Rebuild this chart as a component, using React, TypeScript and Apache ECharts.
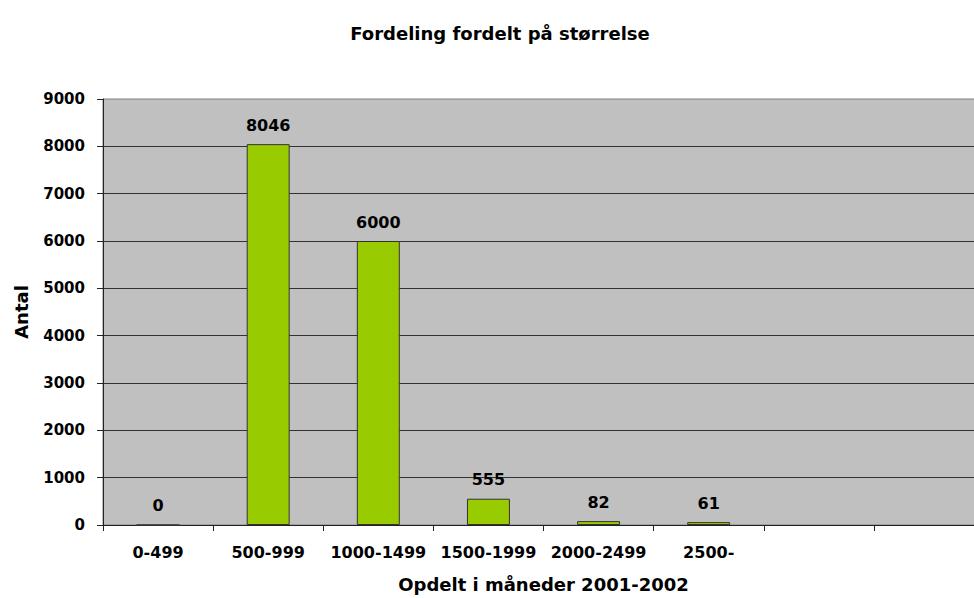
import React, { useEffect, useRef } from "react";
import * as echarts from "echarts";

const TITLE = "Fordeling fordelt på størrelse";
const X_NAME = "Opdelt i måneder 2001-2002";
const Y_NAME = "Antal";
const categories = ["0-499", "500-999", "1000-1499", "1500-1999", "2000-2499", "2500-", "", ""];
const values: (number | null)[] = [0, 8046, 6000, 555, 82, 61, null, null];
const yMin = 0;
const yMax = 9000;
const yInterval = 1000;

const FONT = "'DejaVu Sans', 'Liberation Sans', Arial, sans-serif";

export default function App() {
  const ref = useRef<HTMLDivElement>(null);
  useEffect(() => {
    if (!ref.current) return;
    const chart = echarts.init(ref.current, null, { renderer: "svg" });
    chart.setOption({
      animation: false,
      backgroundColor: "#ffffff",
      textStyle: { fontFamily: FONT, color: "#000" },
      title: {
        text: TITLE,
        left: "center",
        top: 19,
        textStyle: { fontFamily: FONT, fontWeight: "bold", fontSize: 18, color: "#000" },
      },
      grid: {
        left: 103,
        right: 16,
        top: 99,
        bottom: 71,
        show: true,
        backgroundColor: "#C0C0C0",
        borderColor: "#808080",
        borderWidth: 1,
      },
      xAxis: {
        type: "category",
        data: categories,
        boundaryGap: true,
        name: X_NAME,
        nameLocation: "middle",
        nameGap: 50,
        nameTextStyle: { fontFamily: FONT, fontWeight: "bold", fontSize: 18, color: "#000" },
        axisLine: { show: true, lineStyle: { color: "#222", width: 1 } },
        axisTick: { show: true, length: 6, inside: false, lineStyle: { color: "#222" } },
        axisLabel: {
          interval: 0,
          margin: 19,
          fontFamily: FONT,
          fontWeight: "bold",
          fontSize: 16,
          color: "#000",
        },
        splitLine: { show: false },
      },
      yAxis: {
        type: "value",
        min: yMin,
        max: yMax,
        interval: yInterval,
        name: Y_NAME,
        nameLocation: "middle",
        nameGap: 73,
        nameRotate: 90,
        nameTextStyle: { fontFamily: FONT, fontWeight: "bold", fontSize: 18, color: "#000" },
        axisLine: { show: true, lineStyle: { color: "#222", width: 1 } },
        axisTick: { show: true, length: 6, inside: false, lineStyle: { color: "#222" } },
        axisLabel: {
          margin: 18,
          fontFamily: FONT,
          fontWeight: "bold",
          fontSize: 15,
          color: "#000",
          formatter: (v: number) => String(v),
        },
        splitLine: {
          show: true,
          showMinLine: false,
          showMaxLine: false,
          lineStyle: { color: "#333", width: 1 },
        },
      },
      series: [
        {
          type: "bar",
          data: values,
          barWidth: "39%",
          itemStyle: { color: "#99CC00", borderColor: "#333", borderWidth: 1 },
          label: {
            show: true,
            position: "top",
            distance: 11,
            fontFamily: FONT,
            fontWeight: "bold",
            fontSize: 16,
            color: "#000",
          },
        },
      ],
    });
    return () => chart.dispose();
  }, []);
  return (
    <div
      style={{
        position: "fixed",
        left: 0,
        top: 0,
        width: 974,
        height: 598,
        overflow: "hidden",
        background: "#fff",
      }}
    >
      <div ref={ref} style={{ width: 1000, height: 598 }} />
    </div>
  );
}
